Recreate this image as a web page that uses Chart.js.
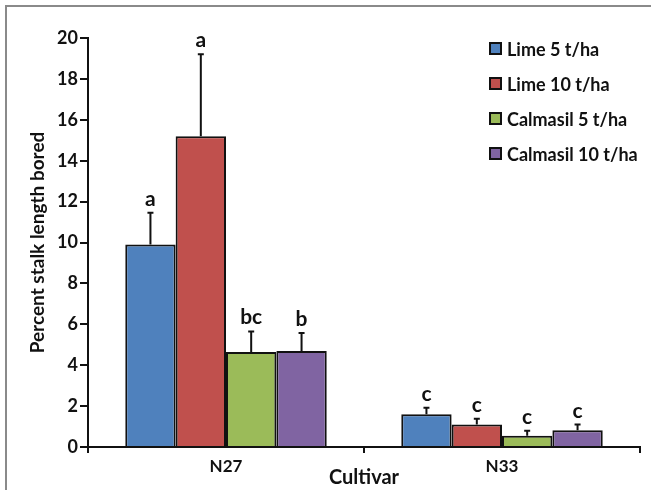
<!DOCTYPE html>
<html>
<head>
<meta charset="utf-8">
<script src="https://cdn.jsdelivr.net/npm/chart.js@4/dist/chart.umd.min.js"></script>
<style>
  html, body { margin: 0; padding: 0; background: #fff; }
  body { width: 651px; height: 490px; position: relative; overflow: hidden; }
  #frame {
    position: absolute; left: 5px; top: 5px; width: 700px; height: 600px;
    border-left: 2px solid #8a8a8a; border-top: 2px solid #8a8a8a;
    pointer-events: none;
  }
  #wrap { position: absolute; left: 0; top: 0; width: 651px; height: 490px; }
  #legend {
    position: absolute; left: 489px; top: 31px;
    font-family: Lato, "Open Sans", sans-serif; font-weight: bold; font-size: 18px; color: #111;
  }
  .row { display: flex; align-items: center; height: 35px; }
  .box { width: 9px; height: 9px; border: 2px solid #111; margin-right: 5px; }
</style>
</head>
<body>
<div id="wrap"><canvas id="chart" width="651" height="490"></canvas></div>
<div id="frame"></div>
<div id="legend"></div>
<script>
/* ─────────────────────────────────────────
   DATOS
───────────────────────────────────────── */
const cultivars = ["N27", "N33"];
const treatments = ["Lime 5 t/ha", "Lime 10 t/ha", "Calmasil 5 t/ha", "Calmasil 10 t/ha"];
const colors = ["#4f81bd", "#c0504d", "#9bbb59", "#8064a2"];

const lime5 = [9.9, 1.6];
const lime10 = [15.2, 1.1];
const calmasil5 = [4.65, 0.55];
const calmasil10 = [4.7, 0.82];

// error superior (solo hacia arriba)
const lime5Err = [1.55, 0.32];
const lime10Err = [4.0, 0.28];
const calmasil5Err = [1.0, 0.24];
const calmasil10Err = [0.88, 0.28];

const lime5Letters = ["a", "c"];
const lime10Letters = ["a", "c"];
const calmasil5Letters = ["bc", "c"];
const calmasil10Letters = ["b", "c"];

const yTicks = [0, 2, 4, 6, 8, 10, 12, 14, 16, 18, 20];

const series = [lime5, lime10, calmasil5, calmasil10];
const errors = [lime5Err, lime10Err, calmasil5Err, calmasil10Err];
const letters = [lime5Letters, lime10Letters, calmasil5Letters, calmasil10Letters];

const FONT = "Lato, 'Open Sans', sans-serif";

/* ─────────────────────────────────────────
   BARRAS DE ERROR + LETRAS
───────────────────────────────────────── */
const errorBars = {
  id: "errorBars",
  afterDatasetsDraw(chart) {
    const ctx = chart.ctx;
    const y = chart.scales.y;
    chart.data.datasets.forEach((ds, i) => {
      const meta = chart.getDatasetMeta(i);
      meta.data.forEach((bar, j) => {
        const top = y.getPixelForValue(ds.data[j] + ds.errors[j]);
        ctx.save();
        ctx.strokeStyle = "#111";
        ctx.lineWidth = 2;
        ctx.beginPath();
        ctx.moveTo(bar.x, bar.y);
        ctx.lineTo(bar.x, top);
        ctx.moveTo(bar.x - 3, top);
        ctx.lineTo(bar.x + 3, top);
        ctx.stroke();
        ctx.fillStyle = "#111";
        ctx.font = "bold 21px " + FONT;
        ctx.textAlign = "center";
        ctx.textBaseline = "alphabetic";
        ctx.fillText(ds.letters[j], bar.x, top - 7);
        ctx.restore();
      });
    });
    // el eje Y se prolonga un poco por debajo de 0, como en el original
    const x = chart.scales.x;
    ctx.save();
    ctx.strokeStyle = "#111";
    ctx.lineWidth = 2;
    ctx.beginPath();
    ctx.moveTo(x.left, y.bottom);
    ctx.lineTo(x.left, y.bottom + 6);
    ctx.stroke();
    ctx.restore();
  }
};

/* ─────────────────────────────────────────
   GRÁFICO
───────────────────────────────────────── */
const chart = new Chart(document.getElementById("chart"), {
  type: "bar",
  data: {
    labels: cultivars,
    datasets: treatments.map((t, i) => ({
      label: t,
      data: series[i],
      errors: errors[i],
      letters: letters[i],
      backgroundColor: colors[i],
      borderColor: "#111",
      borderWidth: 2,
      borderSkipped: "bottom",
      categoryPercentage: 0.73,
      barPercentage: 1.0
    }))
  },
  options: {
    responsive: false,
    animation: false,
    layout: { padding: { left: 0, top: 38, right: 11, bottom: 0 } },
    plugins: { legend: { display: false }, tooltip: { enabled: false } },
    scales: {
      x: {
        afterFit: s => { s.height = 43; },
        grid: { display: true, drawOnChartArea: false, color: "#111", lineWidth: 2, tickLength: 6, offset: true },
        border: { color: "#111", width: 2 },
        ticks: { color: "#111", font: { family: FONT, size: 17, weight: "bold" }, padding: 3 },
        title: { display: true, text: "Cultivar", color: "#111", font: { family: FONT, size: 20, weight: "bold" }, padding: { top: -8, bottom: 0 } }
      },
      y: {
        min: 0, max: 20,
        afterFit: s => { s.width = 88; },
        afterBuildTicks: s => { s.ticks = yTicks.map(v => ({ value: v })); },
        grid: { display: true, drawOnChartArea: false, color: "#111", lineWidth: 2, tickLength: 8 },
        border: { color: "#111", width: 2 },
        ticks: { color: "#111", font: { family: FONT, size: 18, weight: "bold" }, padding: 2 },
        title: { display: true, text: "Percent stalk length bored", color: "#111", font: { family: FONT, size: 19, weight: "bold" }, padding: { top: 26, bottom: 0 } }
      }
    }
  },
  plugins: [errorBars]
});

/* ─────────────────────────────────────────
   LEYENDA
───────────────────────────────────────── */
document.getElementById("legend").innerHTML = treatments.map((t, i) => `
  <div class="row"><span class="box" style="background:${colors[i]}"></span>${t}</div>
`).join("");
</script>
</body>
</html>
